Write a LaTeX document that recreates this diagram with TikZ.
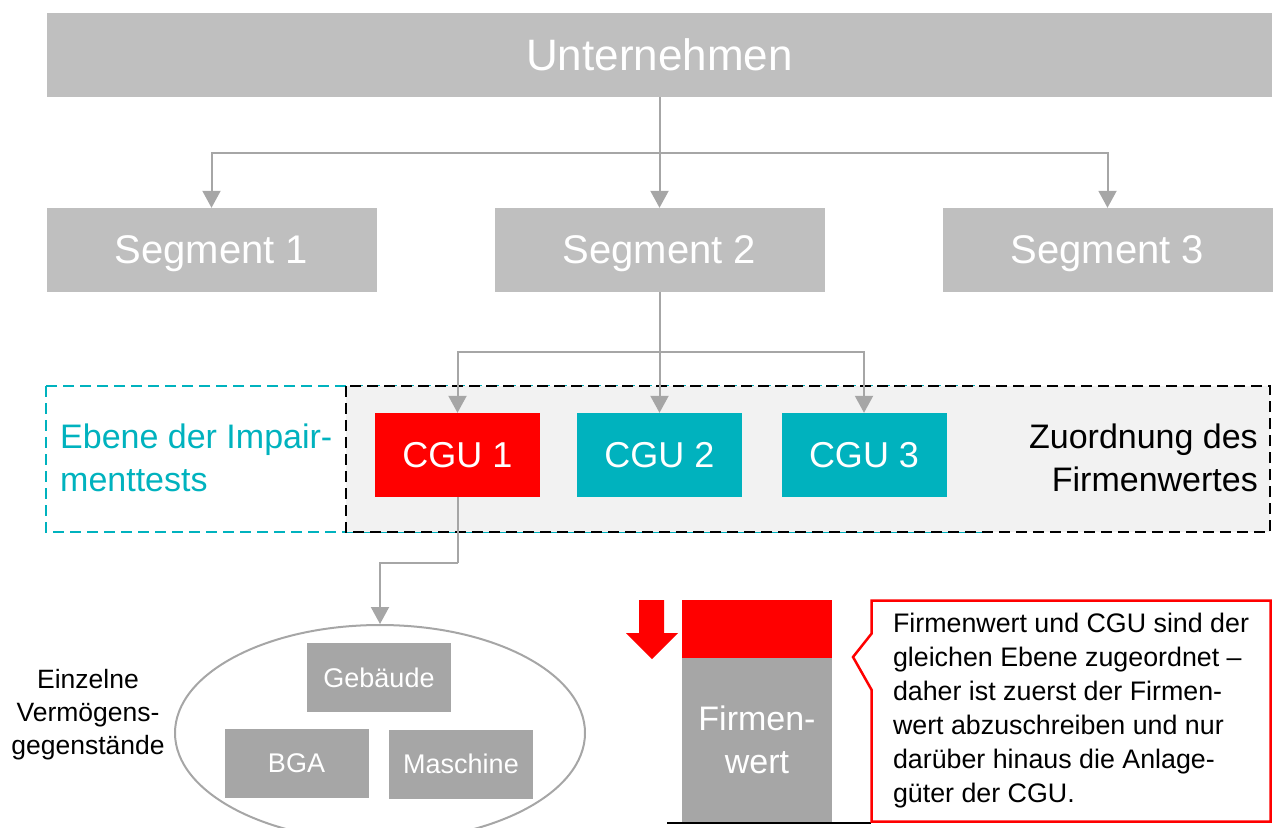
\documentclass[tikz,border=0pt]{standalone}
\usepackage{fontspec}
\setmainfont{Liberation Sans}
\usetikzlibrary{arrows.meta,shapes.geometric,shapes.callouts}
\definecolor{boxgray}{RGB}{191,191,191}
\definecolor{assetgray}{RGB}{166,166,166}
\definecolor{cgucyan}{RGB}{0,178,190}
\definecolor{lightfill}{RGB}{242,242,242}
\begin{document}
\begin{tikzpicture}[x=1pt,y=-1pt,
  level/.style={fill=boxgray,text=white,inner sep=0pt,minimum height=84pt,font=\fontsize{40}{48}\selectfont},
  cgu/.style={fill=cgucyan,text=white,minimum width=165pt,minimum height=84pt,inner sep=0pt,font=\fontsize{36}{43}\selectfont},
  asset/.style={fill=assetgray,text=white,minimum width=144pt,minimum height=69pt,inner sep=0pt,font=\fontsize{27}{32}\selectfont},
  link/.style={draw=assetgray,line width=2pt},
  arr/.style={link,-{Triangle[width=18pt,length=17pt]}},
  dashbox/.style={line width=2.5pt,dash pattern=on 11pt off 6pt}]
\useasboundingbox (0,0) rectangle (1273,827);

\node (unt) [level,minimum width=1225pt,font=\fontsize{44}{53}\selectfont] at (659.5,55) {Unternehmen};
\node (seg1) [level,minimum width=330pt,text depth=0pt] at (211.5,250) {Segment 1};
\node (seg2) [level,minimum width=330pt,text depth=0pt] at (659.5,250) {Segment 2};
\node (seg3) [level,minimum width=330pt,text depth=0pt] at (1107.5,250) {Segment 3};

\coordinate (j1) at (659.5,153);
\draw[link] (unt) -- (j1);
\draw[arr] (j1) -| (seg1);
\draw[arr] (j1) -- (seg2);
\draw[arr] (j1) -| (seg3);

\draw[dashbox,draw=cgucyan] (46,386) rectangle (985,532);
\draw[dashbox,fill=lightfill] (346,386) rectangle (1270,532);

\node (cgu1) [cgu,fill=red] at (457.5,455) {CGU 1};
\node (cgu2) [cgu] at (659.5,455) {CGU 2};
\node (cgu3) [cgu] at (864,455) {CGU 3};

\coordinate (j2) at (659.5,352);
\draw[link] (seg2) -- (j2);
\draw[arr] (j2) -| (cgu1);
\draw[arr] (j2) -- (cgu2);
\draw[arr] (j2) -| (cgu3);

\node (ebene) [anchor=west,align=left,inner sep=0pt,text=cgucyan,font=\fontsize{34}{43}\selectfont] at (60,458) {Ebene der Impair-\\menttests};
\node (zuord) [anchor=east,align=right,inner sep=0pt,font=\fontsize{34}{43}\selectfont] at (1258,458) {Zuordnung des\\Firmenwertes};

\node (assets) [ellipse,draw=assetgray,line width=2pt,minimum width=410pt,minimum height=216pt,inner sep=0pt] at (380,733) {};
\node (geb) [asset] at (379,677.5) {Gebäude};
\node (bga) [asset] at (296.5,763.5) {BGA};
\node (masch) [asset] at (461,764) {Maschine};

\coordinate (j3) at (457.5,563);
\draw[link] (cgu1) -- (j3);
\draw[arr] (j3) -| (assets);

\node (einz) [align=center,inner sep=0pt,font=\fontsize{26.5}{33}\selectfont] at (88,715) {Einzelne\\Vermögens-\\gegenstände};

\node (fwred) [fill=red,minimum width=150pt,minimum height=59pt,inner sep=0pt] at (757,629) {};
\node (fw) [fill=assetgray,text=white,minimum width=150pt,minimum height=164pt,inner sep=0pt,align=center,font=\fontsize{34}{43}\selectfont] at (757,740) {Firmen-\\wert};
\fill[red] (639,600) -- (664,600) -- (664,633) -- (678,633) -- (652,659) -- (626,633) -- (639,633) -- cycle;
\draw[line width=2.5pt] (667,823) -- (871,823);

\node (note) [rectangle callout,draw=red,fill=white,line width=2.5pt,minimum width=399pt,minimum height=221pt,inner sep=0pt,align=left,callout absolute pointer={(853,657)},callout pointer width=56pt,font=\fontsize{26.8}{34}\selectfont] at (1071,711) {Firmenwert und CGU sind der\\gleichen Ebene zugeordnet –\\daher ist zuerst der Firmen-\\wert abzuschreiben und nur\\darüber hinaus die Anlage-\\güter der CGU.};
\end{tikzpicture}
\end{document}
